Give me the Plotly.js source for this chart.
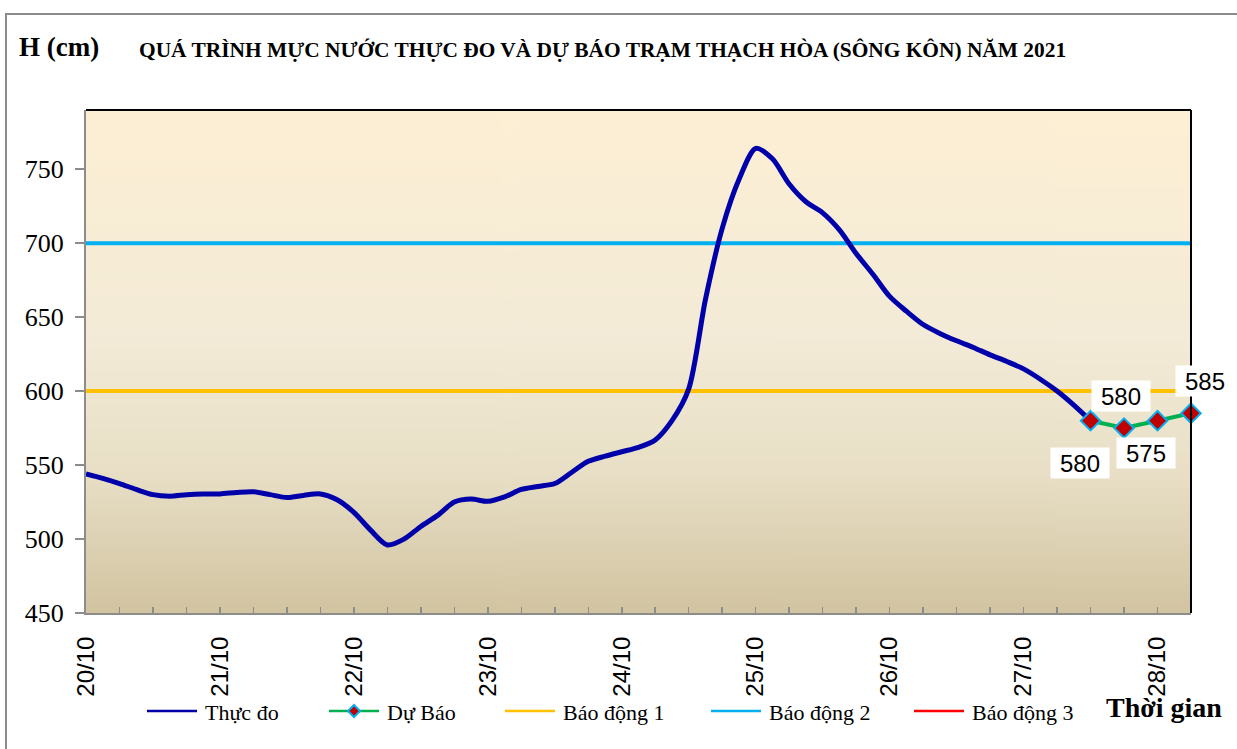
<!DOCTYPE html>
<html>
<head>
<meta charset="utf-8">
<script src="https://cdn.plot.ly/plotly-3.0.1.min.js"></script>
<style>
  html, body { margin:0; padding:0; background:#fff; overflow:hidden; }
  #wrap { position:relative; width:1237px; height:749px; }
  #chart { position:absolute; left:0; top:0; width:1237px; height:749px; }
  #frame { position:absolute; left:5px; top:13px; width:1300px; height:800px; border:2px solid #8c8c8c; pointer-events:none; }
</style>
</head>
<body>
<div id="wrap"><div id="chart"></div><div id="frame"></div></div>
<script>
// ---- data ----
// Measured water level (cm), every 3 hours from 20/10/2021 00:00 to 27/10/2021 12:00
const measuredStart = '2021-10-20T00:00:00';
const measuredStepHours = 3;
const measured = [
  544, 541, 537.5, 533.5, 530, 529, 530, 530.5,
  530.5, 531.5, 532, 530, 528, 529.5, 530.5, 526.5,
  518, 506, 496, 500, 508.5, 516, 525, 527,
  525.5, 528.5, 533.5, 535.5, 537.5, 545, 552.5, 556,
  559, 562, 567, 580, 601.5, 662, 710, 743,
  764, 757, 740, 728, 720.5, 709, 693, 679,
  664, 654, 645, 639, 634, 629.5, 624.5, 620,
  615, 608, 600, 590.5, 580
];
// Forecast
const forecastTimes = ['2021-10-27 12:00', '2021-10-27 18:00', '2021-10-28 00:00', '2021-10-28 06:00'];
const forecast = [580, 575, 580, 585];
// Alarm levels
const alarmNames = ['Báo động 1', 'Báo động 2', 'Báo động 3'];
const alarmLevels = [600, 700, 800];
const alarmColors = ['#FFC000', '#00B0F0', '#FF0000'];
const seriesNames = ['Thực đo', 'Dự Báo'];
const xStart = '2021-10-20 00:00';
const xEnd = '2021-10-28 06:00';
const yRange = [450, 790];

// ---- build times ----
function fmt(d){
  const p = n => String(n).padStart(2,'0');
  return d.getFullYear()+'-'+p(d.getMonth()+1)+'-'+p(d.getDate())+' '+p(d.getHours())+':00';
}
const t0 = new Date(measuredStart);
const measuredTimes = measured.map((_, i) => fmt(new Date(t0.getTime() + i*measuredStepHours*3600000)));

// ---- geometry helpers (plot area in px) ----
const W = 1237, H = 749;
const M = {l:86, r:46, t:110, b:136};
const PW = W - M.l - M.r, PH = H - M.t - M.b;
const px2x = px => (px - M.l) / PW;
const px2y = py => (H - M.b - py) / PH;

// ---- background gradient image ----
const cv = document.createElement('canvas');
cv.width = 4; cv.height = 512;
const cx = cv.getContext('2d');
const g = cx.createLinearGradient(0,0,0,512);
g.addColorStop(0, '#FDEFD4');
g.addColorStop(0.45, '#F3EBD7');
g.addColorStop(0.72, '#E8DFC6');
g.addColorStop(1, '#D2C4A1');
cx.fillStyle = g; cx.fillRect(0,0,4,512);
const bgURL = cv.toDataURL('image/png');

const traces = [];
alarmLevels.forEach((lv, i) => {
  traces.push({x:[xStart, xEnd], y:[lv, lv], mode:'lines', type:'scatter', name:alarmNames[i],
    line:{color:alarmColors[i], width:4}, showlegend:false, hoverinfo:'skip'});
});
traces.push({x:measuredTimes, y:measured, type:'scatter', mode:'lines', name:seriesNames[0],
  line:{color:'#0000AA', width:5, shape:'spline', smoothing:0.8}, showlegend:false});
traces.push({x:forecastTimes, y:forecast, type:'scatter', mode:'lines+markers', name:seriesNames[1],
  line:{color:'#00B050', width:4},
  marker:{symbol:'diamond', size:15, color:'#C00000', line:{color:'#00B0F0', width:2}},
  showlegend:false, cliponaxis:false});

// data labels
const labelShifts = [[-11,-42],[22,-25],[-37,25],[14,32]];
const annotations = forecast.map((v, i) => ({
  x: forecastTimes[i], y: v, xref:'x', yref:'y', text: String(v), showarrow:false,
  xshift: labelShifts[i][0], yshift: labelShifts[i][1],
  bgcolor:'#FFFFFF', borderpad:2, width:54, height:26,
  font:{family:'Liberation Sans, Arial', size:24, color:'#000'}
}));
annotations.push({xref:'paper', yref:'paper', x:px2x(17), y:px2y(47), xanchor:'left', yanchor:'middle',
  text:'<b>H (cm)</b>', showarrow:false, font:{family:'Liberation Serif, Times New Roman', size:27, color:'#000'}});
annotations.push({xref:'paper', yref:'paper', x:px2x(137), y:px2y(50), xanchor:'left', yanchor:'middle',
  text:'<b>QUÁ TRÌNH MỰC NƯỚC THỰC ĐO VÀ DỰ BÁO TRẠM THẠCH HÒA (SÔNG KÔN) NĂM 2021</b>', showarrow:false,
  font:{family:'Liberation Serif, Times New Roman', size:21.4, color:'#000'}});
annotations.push({xref:'paper', yref:'paper', x:px2x(1104), y:px2y(707), xanchor:'left', yanchor:'middle',
  text:'<b>Thời gian</b>', showarrow:false, font:{family:'Liberation Serif, Times New Roman', size:28, color:'#000'}});

// ---- manual legend (long sample lines like the original) ----
const legendNames = [seriesNames[0], seriesNames[1], alarmNames[0], alarmNames[1], alarmNames[2]];
const legendColors = ['#0000AA', '#00B050', alarmColors[0], alarmColors[1], alarmColors[2]];
const legendX = [147, 329, 505, 711, 914];
const legendY = 711;
const shapes = [
  {type:'line', xref:'paper', yref:'paper', x0:0, x1:1, y0:1, y1:1, line:{color:'#000', width:2}},
  {type:'line', xref:'paper', yref:'paper', x0:1, x1:1, y0:0, y1:1, line:{color:'#000', width:2}}
];
legendNames.forEach((n, i) => {
  shapes.push({type:'line', xref:'paper', yref:'paper', x0:px2x(legendX[i]), x1:px2x(legendX[i]+50),
    y0:px2y(legendY), y1:px2y(legendY), line:{color:legendColors[i], width:2.5}});
  annotations.push({xref:'paper', yref:'paper', x:px2x(legendX[i]+56), y:px2y(legendY+1), xanchor:'left', yanchor:'middle',
    text:n, showarrow:false, font:{family:'Liberation Serif, Times New Roman', size:22, color:'#000'}});
});
// diamond marker in Dự Báo legend entry
const dcx = legendX[1] + 25;
const dpath = (r) => `M ${px2x(dcx)} ${px2y(legendY - r)} L ${px2x(dcx + r)} ${px2y(legendY)} L ${px2x(dcx)} ${px2y(legendY + r)} L ${px2x(dcx - r)} ${px2y(legendY)} Z`;
shapes.push({type:'path', xref:'paper', yref:'paper', path:dpath(6), fillcolor:'#C00000', line:{color:'#00B0F0', width:2}});

const layout = {
  width:W, height:H,
  margin:M,
  paper_bgcolor:'rgba(0,0,0,0)',
  plot_bgcolor:'rgba(0,0,0,0)',
  showlegend:false,
  xaxis:{type:'date', range:[xStart, xEnd], tick0:'2021-10-20', dtick:86400000, tickformat:'%d/%m',
    tickangle:-90, ticks:'inside', ticklen:6, tickcolor:'#8c8c8c', tickwidth:1.5,
    minor:{dtick:21600000, ticks:'inside', ticklen:6, tickcolor:'#8c8c8c', tickwidth:1.5, showgrid:false},
    showgrid:false, zeroline:false, showline:true, linecolor:'#8c8c8c', linewidth:2,
    tickfont:{family:'Liberation Sans, Arial', size:24, color:'#000'}, ticklabelstandoff:12},
  yaxis:{range:yRange, dtick:50, tick0:450, ticks:'outside', ticklen:9, tickcolor:'#8c8c8c', tickwidth:1.5,
    showgrid:false, zeroline:false, showline:true, linecolor:'#8c8c8c', linewidth:2,
    tickfont:{family:'Liberation Serif, Times New Roman', size:26, color:'#000'}, ticklabelstandoff:6},
  images:[{source:bgURL, xref:'paper', yref:'paper', x:0, y:1, sizex:1, sizey:1,
    sizing:'stretch', xanchor:'left', yanchor:'top', layer:'below'}],
  shapes:shapes,
  annotations:annotations
};

Plotly.newPlot('chart', traces, layout, {staticPlot:true});
</script>
</body>
</html>
